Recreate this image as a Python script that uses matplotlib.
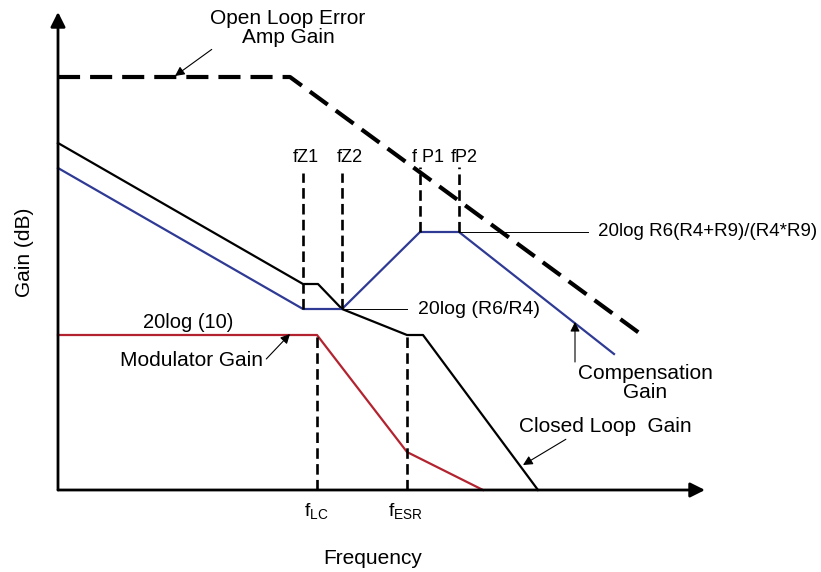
"""Bode sketch: error amp, compensation, modulator and closed loop gain."""

import matplotlib.pyplot as plt

plt.rcParams["font.family"] = ["Liberation Sans", "DejaVu Sans"]
plt.rcParams["mathtext.fontset"] = "custom"
plt.rcParams["mathtext.rm"] = "Liberation Sans"

COLORS = {"comp": "#2E3A94", "mod": "#B3232F", "ink": "black"}

# breakpoints, arbitrary units (freq to the right, gain upwards)
open_loop_f = [0, 232, 584]
open_loop_g = [413, 413, 155]

closed_loop_f = [0, 245, 260, 284, 349, 365, 480]
closed_loop_g = [347, 206, 206, 181, 155, 155, 0]

comp_f = [0, 245, 284, 362, 401, 556]
comp_g = [322, 181, 181, 258, 258, 136]

mod_f = [0, 259, 349, 425]
mod_g = [155, 155, 38, 0]

# corner frequencies: name, freq, gain at bottom, gain at top
markers_upper = [("fZ1", 245, 181, 317), ("fZ2", 284, 181, 317),
                 ("f P1", 362, 258, 323), ("fP2", 401, 258, 323)]
marker_label_f = [248, 292, 370, 406]
markers_lower = [(r"$\mathregular{f_{LC}}$", 259, 0, 155),
                 (r"$\mathregular{f_{ESR}}$", 349, 0, 155)]

fig = plt.figure(figsize=(8.21, 5.72), dpi=100)
ax = fig.add_axes([0, 0, 1, 1])
ax.set_xlim(-58, 763)
ax.set_ylim(-82, 490)
ax.axis("off")

# ---- axes with arrow heads ----
arrow = dict(arrowstyle="-|>", lw=2.0, color="k", mutation_scale=22, shrinkA=0, shrinkB=0)
ax.annotate("", xy=(0, 478), xytext=(0, 0), arrowprops=arrow)
ax.annotate("", xy=(647, 0), xytext=(0, 0), arrowprops=arrow)

# ---- curves ----
ax.plot(open_loop_f, open_loop_g, color="k", lw=3.0, dashes=(5.3, 2.4),
        solid_joinstyle="miter")
ax.plot(closed_loop_f, closed_loop_g, color="k", lw=1.6)
ax.plot(comp_f, comp_g, color=COLORS["comp"], lw=1.6)
ax.plot(mod_f, mod_g, color=COLORS["mod"], lw=1.6)

# ---- corner frequency markers ----
for (name, f, g0, g1), lf in zip(markers_upper, marker_label_f):
    ax.plot([f, f], [g0, g1], color="k", lw=1.9, dashes=(4, 2))
    ax.text(lf, 333, name, ha="center", va="center", fontsize=13)

for name, f, g0, g1 in markers_lower:
    ax.plot([f, f], [g0, g1], color="k", lw=1.9, dashes=(4, 2))
    ax.text(f - 1, -21, name, ha="center", va="center", fontsize=14)

# ---- leader lines and labels ----
ax.plot([284, 349], [181, 181], color="k", lw=0.7)
ax.text(360, 181, "20log (R6/R4)", ha="left", va="center", fontsize=14)
ax.plot([401, 530], [258, 258], color="k", lw=0.7)
ax.text(540, 258, "20log R6(R4+R9)/(R4*R9)", ha="left", va="center", fontsize=13.5)
ax.text(130, 168, "20log (10)", ha="center", va="center", fontsize=14.5)

thin = dict(arrowstyle="-|>", lw=0.8, color="k", mutation_scale=14, shrinkA=0, shrinkB=0)
ax.annotate("Open Loop Error\nAmp Gain", xy=(117, 414), xytext=(230, 462),
            ha="center", va="center", fontsize=15, linespacing=0.95,
            arrowprops=dict(thin, relpos=(0.05, 0.05)))
ax.annotate("Modulator Gain", xy=(232, 156), xytext=(134, 130),
            ha="center", va="center", fontsize=15,
            arrowprops=dict(thin, relpos=(1.0, 0.4)))
ax.annotate("", xy=(517, 168), xytext=(517, 128), arrowprops=thin)
ax.text(587, 107, "Compensation\nGain", ha="center", va="center", fontsize=15,
        linespacing=0.95)
ax.annotate("Closed Loop  Gain", xy=(465, 25), xytext=(547, 63),
            ha="center", va="center", fontsize=15,
            arrowprops=dict(thin, relpos=(0.3, 0.0)))

ax.text(-34, 238, "Gain (dB)", rotation=90, ha="center", va="center", fontsize=15)
ax.text(315, -68, "Frequency", ha="center", va="center", fontsize=15)

fig.savefig("out.png", dpi=100)
